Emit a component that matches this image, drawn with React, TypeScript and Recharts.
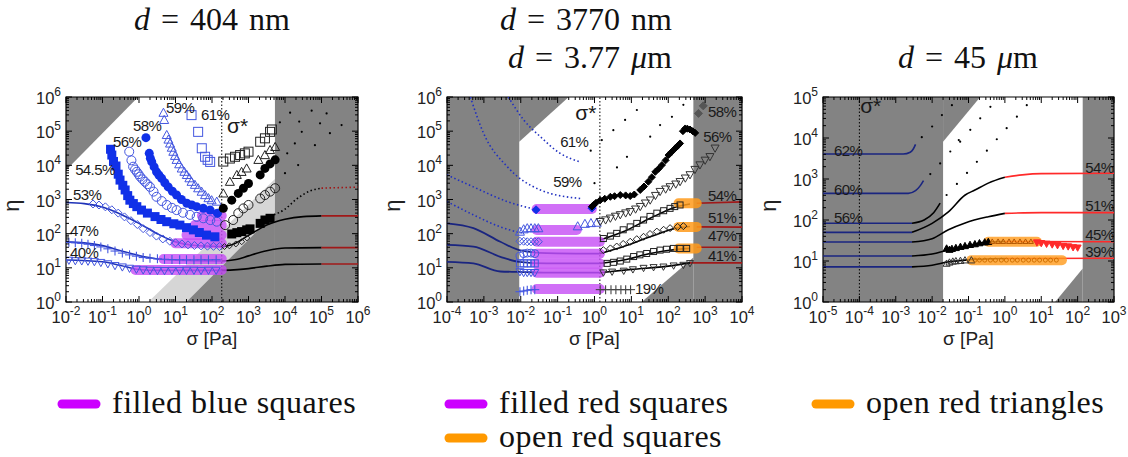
import React from "react";
import {
  Area,
  ComposedChart,
  Label,
  Line,
  ReferenceArea,
  ReferenceLine,
  Scatter,
  XAxis,
  YAxis,
} from "recharts";

type Pt = [number, number];
type Sh = [number, number, number];

const SANS = '"Liberation Sans", Arial, Helvetica, sans-serif';
const SERIF = '"Liberation Serif", "DejaVu Serif", "Noto Serif", "Times New Roman", serif';

const DARK = "#838383";
const LIGHT = "#d6d6d6";
const BLUE = "#1030e8";
const OBLUE = "#4457e0";
const FIT1 = "#1f33b8";
const NAVY = "#1a2580";
const RED = "#a01818";
const RED3 = "#ff2a2a";
const MAGENTA = "#c64cf5";
const ORANGE = "#ff9a1a";

// ---------------- d = 404 nm ----------------
const p1ShadeUL: Sh[] = [[0.01, 7200, 1e6], [0.95, 1e6, 1e6]];
const p1ShadeLight: Sh[] = [[1.8, 1, 1], [5300, 1, 4000]];
const p1ShadeLow: Sh[] = [[20, 1, 1], [5300, 1, 400]];
const p1ShadeRight: Sh[] = [[5300, 1, 1e6], [1e6, 1, 1e6]];
const p1Star = 185;

const p1Fit53: Pt[] = [[0.01, 813], [0.0316, 759], [0.1, 603], [0.316, 372], [1, 200], [3.16, 100], [10, 57.5], [31.6, 45.7], [185, 41.7]];
const p1Fit47: Pt[] = [[0.01, 57.5], [0.0316, 53.7], [0.1, 44.7], [0.316, 31.6], [1, 22.9], [3.16, 18.2], [10, 16.6], [185, 15.8]];
const p1Fit40: Pt[] = [[0.01, 17], [0.1, 15.1], [0.316, 11.7], [1, 8.9], [3.16, 8.4], [185, 8.4]];
const p1Blk53: Pt[] = [[185, 41.7], [400, 50], [1000, 89], [3160, 178], [10000, 263], [31600, 316], [100000, 331]];
const p1Blk47: Pt[] = [[185, 15.8], [500, 17.8], [1000, 22.4], [3160, 31.6], [10000, 38], [100000, 39]];
const p1Blk40: Pt[] = [[185, 8.4], [1000, 9.5], [3160, 11.2], [10000, 12.6], [100000, 13]];
const p1Red53: Pt[] = [[1e5, 331], [1e6, 331]];
const p1Red47: Pt[] = [[1e5, 39], [1e6, 39]];
const p1Red40: Pt[] = [[1e5, 13], [1e6, 13]];
const p1Dotted: Pt[] = [[5000, 355], [10000, 520], [20000, 1000], [50000, 1800], [100000, 2150]];
const p1DottedRed: Pt[] = [[1e5, 2150], [1e6, 2300]];

const p1M40: Pt[] = [[0.012, 16.5], [0.018, 16], [0.027, 15.8], [0.04, 15.5], [0.06, 15], [0.09, 14.2], [0.14, 13], [0.22, 11.5], [0.35, 10.5], [0.55, 9.6], [0.85, 9], [1.3, 8.6], [2, 8.4], [3.2, 8.3], [5, 8.2], [8, 8.3], [13, 8.3], [20, 8.4], [32, 8.4], [50, 8.3], [80, 8.4], [130, 8.4]];
const p1M47: Pt[] = [[0.012, 56], [0.018, 54], [0.027, 52], [0.04, 49], [0.06, 45], [0.09, 41], [0.14, 36], [0.22, 31], [0.35, 27], [0.55, 24], [0.85, 22], [1.3, 20], [2, 19], [3.2, 18.3], [5, 17.8], [8, 17.5], [13, 17.3], [20, 17.2], [32, 17.2], [50, 17.3], [80, 17.2], [130, 17.3]];
const p1M53: Pt[] = [[0.055, 740], [0.08, 690], [0.12, 610], [0.18, 500], [0.27, 400], [0.4, 310], [0.6, 240], [0.9, 185], [1.3, 140], [2, 108], [3, 85], [4.5, 70], [7, 60], [10, 54], [15, 50], [22, 47], [33, 45], [50, 44], [75, 43], [110, 42.5], [160, 42]];
const p1M545: Pt[] = [[0.166, 29500], [0.18, 20000], [0.2, 13000], [0.234, 9550], [0.27, 5500], [0.302, 3700], [0.36, 2600], [0.417, 1900], [0.49, 1300], [0.562, 955], [0.7, 760], [0.871, 617], [1.17, 490], [1.7, 400], [2.75, 316], [4, 260], [5.75, 224], [9, 195], [13.2, 178], [20, 150], [30.9, 129], [45, 108], [70.8, 91], [120, 81]];
const p1M56: Pt[] = [[0.54, 25100], [0.62, 14000], [0.69, 9120], [0.78, 7500], [0.87, 6460], [0.97, 5500], [1.07, 4680], [1.25, 3900], [1.45, 3310], [1.7, 2800], [2, 2340], [2.5, 1700], [3.02, 1200], [4.2, 900], [5.75, 692], [8, 570], [10.7, 490], [16, 410], [25.1, 355], [38, 310], [57.5, 282], [90, 250], [135, 224]];
const p1M58: Pt[] = [[1.55, 64600], [1.91, 22400], [2.05, 16000], [2.24, 12600], [2.6, 9000], [3.02, 6460], [3.5, 5200], [4.17, 4170], [5.1, 3100], [6.31, 2340], [8.2, 1750], [10.7, 1350], [14.5, 1000], [20.4, 776], [28, 690], [38, 617], [58, 550], [89, 490], [141, 398]];
const p1M59: Pt[] = [[4.68, 347000], [4.9, 214000], [5.75, 77600], [6.4, 57000], [7.08, 43700], [7.9, 33000], [8.71, 25100], [9.7, 19000], [10.7, 14500], [12.6, 10800], [14.8, 8130], [17.5, 6500], [20.4, 5250], [24, 4200], [27.5, 3310], [34, 2700], [41.7, 2140], [52, 1700], [64.6, 1350], [80, 1100], [97.7, 955], [135, 870]];
const p1M61: Pt[] = [[27.5, 295000], [41.7, 95500], [52.5, 31600], [64.6, 17800], [76, 14500], [89, 12600]];
const p1B61: Pt[] = [[204, 12900], [309, 15800], [427, 17800], [589, 20000], [794, 22400], [1000, 25100], [2090, 49000], [2820, 61700], [3890, 95500], [4370, 112000]];
const p1B59: Pt[] = [[204, 1510], [309, 3310], [479, 5250], [646, 6460], [891, 8130], [1860, 14500], [2820, 20000], [3890, 28200], [5370, 34700]];
const p1B58: Pt[] = [[204, 550], [347, 955], [525, 1510], [724, 2140], [1000, 2950], [2090, 5250], [2820, 8130], [3890, 11000], [5370, 14500]];
const p1B56: Pt[] = [[229, 178], [380, 251], [525, 398], [724, 550], [1000, 692], [2090, 1070], [2820, 1350], [3890, 1700], [5370, 2140]];
const p1B545: Pt[] = [[347, 98], [479, 107], [646, 115], [891, 129], [1100, 138], [2090, 200], [2820, 251], [3890, 282]];
const p1B53: Pt[] = [[220, 42], [300, 44], [450, 50], [650, 58], [900, 75]];
const p1Dots: Pt[] = [[7240, 182000], [13800, 347000], [53700, 398000], [138000, 331000], [24500, 191000], [91200, 170000], [355000, 151000], [28800, 95500], [170000, 87100], [18600, 43700], [66100, 38900], [11500, 22400], [22900, 10200], [10000, 5890]];
// magenta "filled blue squares" bands: [from, to, eta]
const p1Bands: Sh[] = [[0.8, 185, 8.7], [4.7, 185, 18], [10, 185, 52], [20, 185, 91], [34, 185, 178], [53, 185, 335]];
const p1Labels: [number, number, string][] = [[5.5, 339000, "59%"], [50, 214000, "61%"], [0.69, 100000, "58%"], [0.195, 34700, "56%"], [0.0178, 5250, "54.5%"], [0.0155, 977, "53%"], [0.0129, 85, "47%"], [0.0129, 19.5, "40%"]];

// ---------------- d = 3770 nm ----------------
const p2ShadeLeft: Sh[] = [[1e-4, 1, 1e6], [0.0091, 1, 1e6]];
const p2ShadeUL: Sh[] = [[0.0091, 49000, 1e6], [0.2, 1e6, 1e6]];
const p2ShadeLR: Sh[] = [[19, 1, 1], [480, 1, 20]];
const p2ShadeRight: Sh[] = [[480, 1, 1e6], [1e4, 1, 1e6]];
const p2Star = 1.4;

const p2Dot61: Pt[] = [[0.0046, 1e6], [0.012, 214000], [0.034, 69000], [0.117, 22400], [0.41, 12600]];
const p2Dot59: Pt[] = [[0.00043, 1e6], [0.00098, 87100], [0.0043, 9120], [0.034, 1900], [0.41, 1070]];
const p2DotC: Pt[] = [[1e-4, 5250], [0.00052, 2340], [0.0043, 871], [0.0275, 500]];
const p2DotD: Pt[] = [[1e-4, 871], [0.00052, 355], [0.0028, 158], [0.0091, 110], [0.012, 105]];
const p2FitE: Pt[] = [[1e-4, 200], [0.00052, 145], [0.0028, 58], [0.0091, 33], [0.05, 27], [1.4, 26]];
const p2FitF: Pt[] = [[1e-4, 47], [0.00052, 42], [0.0028, 21], [0.0091, 15], [0.05, 13.5], [1.4, 13.5]];
const p2FitG: Pt[] = [[1e-4, 15], [0.00052, 13.5], [0.0028, 7.8], [0.0091, 7.6], [0.05, 7.2], [1.4, 7.2]];
const p2Blk54: Pt[] = [[1.4, 65], [6.2, 115], [32.4, 282], [170, 617], [389, 741]];
const p2Blk51: Pt[] = [[1.4, 26], [6.2, 42], [32.4, 81], [170, 145], [389, 162]];
const p2Blk47: Pt[] = [[1.4, 13.5], [6.2, 17], [32.4, 26.3], [170, 34.7], [389, 37]];
const p2Blk41: Pt[] = [[1.4, 7.2], [10, 9], [100, 11.2], [389, 14]];
const p2Red54: Pt[] = [[590, 776], [1e4, 850]];
const p2Red51: Pt[] = [[590, 158], [1e4, 155]];
const p2Red47: Pt[] = [[590, 40], [1e4, 40]];
const p2Red41: Pt[] = [[389, 14], [1e4, 14]];

const p2TriB: Pt[] = [[0.0095, 115], [0.012, 135], [0.015, 145], [0.019, 145], [0.024, 145], [0.03, 145], [0.35, 165], [0.55, 195], [0.8, 205], [1.15, 210]];
const p2DiaB: Pt[] = [[0.0095, 60], [0.012, 60], [0.015, 58], [0.019, 58], [0.024, 58], [0.03, 58]];
const p2CiB: Pt[] = [[0.0095, 22], [0.012, 26], [0.015, 27], [0.019, 27], [0.024, 26]];
const p2SqB: Pt[] = [[0.0095, 13.5], [0.012, 13.5], [0.015, 13.5], [0.019, 13.5], [0.024, 13.5]];
const p2TdB: Pt[] = [[0.0095, 7.6], [0.012, 7.2], [0.015, 7.2], [0.019, 7.2], [0.024, 7.2]];
const p2PlB: Pt[] = [[0.0095, 2], [0.012, 2.1], [0.015, 2.2], [0.019, 2.3], [0.024, 2.3]];
const p2FdB: Pt[] = [[0.026, 500], [0.85, 560]];
const p2Dia58: Pt[] = [[0.85, 620], [0.94, 692], [1.1, 800], [1.43, 955], [1.9, 1050], [2.69, 1200], [3.5, 1250], [5, 1350], [7, 1320], [9.3, 1260], [12, 1400], [17.4, 1900], [22, 2400], [28.8, 3310], [36, 4500], [44.7, 6460], [55, 8000], [67.6, 10200], [85, 14000], [102, 20000], [125, 25000], [155, 31600], [180, 37000], [209, 43700], [250, 100000], [288, 120000], [330, 118000], [389, 112000], [460, 100000], [537, 89100]];
const p2Gray58: Pt[] = [[891, 550000], [661, 331000]];
const p2Tri56: Pt[] = [[1.43, 224], [2, 250], [2.69, 282], [3.7, 320], [5, 355], [7, 400], [9.3, 437], [13, 520], [17.4, 617], [24, 780], [32.4, 955], [45, 1300], [60, 1700], [85, 2000], [112, 2340], [160, 2800], [209, 3310], [290, 4200], [389, 5250], [530, 7500], [724, 10200], [1000, 14000], [1350, 17800], [1860, 31600]];
const p2Sq54: Pt[] = [[1.74, 72], [2.7, 85], [4, 102], [6, 130], [9.3, 158], [14, 200], [21.4, 251], [32, 320], [49, 398], [75, 470], [112, 550], [150, 620], [209, 692]];
const p2Dia51: Pt[] = [[1.74, 33], [2.7, 37], [4, 42], [6, 50], [9.3, 58], [14, 69], [21.4, 81], [32, 98], [49, 115], [75, 130], [112, 145], [180, 158], [257, 166]];
const p2Sq47: Pt[] = [[2.2, 13.5], [3.3, 14.5], [5, 15.8], [7.5, 18], [11.5, 21.4], [17, 24], [26, 26.3], [40, 30], [60, 33], [90, 35], [138, 37], [210, 37], [316, 37]];
const p2Td41: Pt[] = [[1.74, 7.2], [3, 7.6], [6.2, 8.1], [11, 8.9], [21.4, 9.8], [40, 10.3], [74, 10.7], [140, 11.5], [257, 12], [389, 13.5]];
const p2Pl19: Pt[] = [[1.43, 2.3], [2, 2.3], [2.8, 2.3], [3.8, 2.3], [5.2, 2.3], [7, 2.3], [9.5, 2.3]];
const p2Dots: Pt[] = [[0.79, 26900], [1.0, 3000], [4.07, 8710], [6.76, 214000], [14.1, 417000], [32.4, 69200], [126, 263000], [138, 28200], [257, 589000], [1.58, 55000], [3.24, 107000], [7.6, 17800], [60, 151000]];
const p2Bands: Sh[] = [[0.027, 0.85, 525], [0.027, 0.33, 128], [0.027, 1.4, 58], [0.027, 1.4, 26], [0.027, 1.4, 13.5], [0.027, 1.4, 7.2], [0.027, 1.4, 2.4]];
const p2Orange: Sh[] = [[190, 590, 776], [190, 590, 158], [190, 590, 37]];
const p2Labels: [number, number, string][] = [[0.117, 34700, "61%"], [0.076, 2340, "59%"], [1200, 257000, "58%"], [891, 47900, "56%"], [1200, 912, "54%"], [1200, 204, "51%"], [1200, 61.7, "47%"], [1200, 15.8, "41%"], [12.6, 1.7, "19%"]];

// ---------------- d = 45 um ----------------
const p3ShadeLeft: Sh[] = [[1e-5, 1, 1e5], [0.02, 1, 1e5]];
const p3ShadeUL: Sh[] = [[0.02, 8130, 1e5], [0.21, 1e5, 1e5]];
const p3ShadeLR: Sh[] = [[24, 1, 1], [138, 1, 6.6]];
const p3ShadeRight: Sh[] = [[138, 1, 1e5], [1000, 1, 1e5]];
const p3Star = 1e-4;

const p3Blue62: Pt[] = [[1e-5, 4070], [0.0016, 4070], [0.0025, 4500], [0.003, 5300], [0.0035, 7000]];
const p3Blue60: Pt[] = [[1e-5, 447], [0.0022, 447], [0.0035, 520], [0.0048, 700], [0.0058, 912]];
const p3Blue56: Pt[] = [[1e-5, 83], [0.0028, 83]];
const p3Blue54: Pt[] = [[1e-5, 50], [0.0028, 50]];
const p3Blue51: Pt[] = [[1e-5, 29], [0.0028, 29]];
const p3Blue45: Pt[] = [[1e-5, 13.2], [0.0028, 13.2]];
const p3Blue39: Pt[] = [[1e-5, 7.2], [0.0028, 7.2]];
const p3Blk56: Pt[] = [[0.0028, 83], [0.006, 100], [0.011, 150], [0.0166, 257]];
const p3Blk54: Pt[] = [[0.0028, 50], [0.01, 83], [0.028, 158], [0.081, 407], [0.15, 537], [0.35, 794], [1, 1100]];
const p3Blk51: Pt[] = [[0.0028, 29], [0.01, 35], [0.028, 58], [0.081, 85], [0.35, 120], [1, 145]];
const p3Blk45: Pt[] = [[0.0028, 13.2], [0.01, 14.8], [0.028, 18.6], [0.081, 22.4], [0.35, 29.5], [1, 30]];
const p3Blk39: Pt[] = [[0.0028, 7.2], [0.01, 7.9], [0.028, 9.5], [0.081, 10.5], [1, 11.5]];
const p3Red54: Pt[] = [[1, 1100], [3, 1260], [10, 1350], [1000, 1380]];
const p3Red51: Pt[] = [[1, 145], [10, 151], [1000, 151]];
const p3Red45: Pt[] = [[1, 30], [1000, 29.5]];
const p3Red39: Pt[] = [[1, 11.5], [1000, 11.7]];
const p3FTri: Pt[] = [[0.025, 20.4], [0.03, 19], [0.035, 20], [0.045, 21], [0.06, 22.4], [0.08, 23.4], [0.11, 25], [0.15, 26], [0.2, 27.5], [0.28, 28.8], [0.35, 29.5]];
const p3OTri: Pt[] = [[0.025, 8.7], [0.03, 9.3], [0.037, 9.8], [0.045, 10], [0.06, 10.2], [0.08, 10.5], [0.12, 10.5]];
const p3RedTd: Pt[] = [[7.6, 28], [10, 27], [14, 26], [20, 25], [28, 24], [40, 23], [55, 22.4], [75, 21.4], [100, 21]];
const p3OrTri: Pt[] = [[0.45, 30], [0.65, 30], [0.9, 30], [1.3, 30], [1.8, 30], [2.6, 30], [3.7, 30], [5.2, 30]];
const p3OrCi: Pt[] = [[0.15, 10.5], [0.2, 10.5], [0.28, 10.5], [0.4, 10.5], [0.55, 10.5], [0.8, 10.5], [1.1, 10.5], [1.6, 10.5], [2.2, 10.5], [3.2, 10.5], [4.5, 10.5], [6.4, 10.5], [9, 10.5], [13, 10.5], [18, 10.5], [26, 10.5]];
const p3Dots: Pt[] = [[0.035, 63100], [0.0186, 36300], [0.01, 19100], [0.0052, 10500], [0.0166, 2400], [0.0089, 1320], [0.025, 407], [0.0316, 4680], [0.054, 8910], [0.048, 759], [0.4, 57500], [0.21, 30200], [0.112, 15800], [0.059, 8130], [0.17, 2630], [0.091, 1410], [4, 63100], [2.14, 33100], [1.12, 17400], [0.6, 9330], [0.32, 4900]];
const p3Orange: Sh[] = [[0.35, 7.6, 29.5], [0.12, 37, 10.5]];
const p3Labels: [number, number, string][] = [[2e-5, 3630, "62%"], [2e-5, 407, "60%"], [2e-5, 85, "56%"], [162, 1410, "54%"], [162, 166, "51%"], [162, 32.4, "45%"], [162, 12.6, "39%"]];

const titles: [number, number, string, string][] = [
  [212, 30, "404", "nm"],
  [586, 30, "3770", "nm"],
  [590, 68, "3.77", "μm"],
  [968, 68, "45", "μm"],
];
const legendItems: [number, number, string, string][] = [
  [58, 404, "#cc00ff", "filled blue squares"],
  [445, 404, "#cc00ff", "filled red squares"],
  [445, 438, "#ff9900", "open red squares"],
  [812, 404, "#ff9900", "open red triangles"],
];

const toPts = (a: Pt[]) => a.map(([s, e]) => ({ s, e }));

const logTicks = (a: number, b: number) => {
  const out: number[] = [];
  for (let e = a; e < b; e++) for (let m = 1; m < 10; m++) out.push(m * 10 ** e);
  out.push(10 ** b);
  return out;
};
const isMajor = (v: number) => {
  const lg = Math.log10(v);
  return Math.abs(lg - Math.round(lg)) < 1e-9;
};

const Mark = ({ cx, cy, kind, color, size }: any) => {
  if (cx == null || cy == null) return null;
  const h = size / 2;
  const sw = 1;
  switch (kind) {
    case "sq":
      return <rect x={cx - h} y={cy - h} width={size} height={size} fill={color} />;
    case "osq":
      return <rect x={cx - h} y={cy - h} width={size} height={size} fill="none" stroke={color} strokeWidth={sw} />;
    case "ci":
      return <circle cx={cx} cy={cy} r={h} fill={color} />;
    case "oci":
      return <circle cx={cx} cy={cy} r={h} fill="none" stroke={color} strokeWidth={sw} />;
    case "otri":
    case "ftri":
      return (
        <polygon
          points={`${cx},${cy - h} ${cx + h},${cy + h * 0.8} ${cx - h},${cy + h * 0.8}`}
          fill={kind === "ftri" ? color : "none"}
          stroke={color}
          strokeWidth={sw}
        />
      );
    case "otd":
    case "ftd":
      return (
        <polygon
          points={`${cx},${cy + h} ${cx + h},${cy - h * 0.8} ${cx - h},${cy - h * 0.8}`}
          fill={kind === "ftd" ? color : "none"}
          stroke={color}
          strokeWidth={sw}
        />
      );
    case "odia":
    case "fdia":
      return (
        <polygon
          points={`${cx},${cy - h} ${cx + h},${cy} ${cx},${cy + h} ${cx - h},${cy}`}
          fill={kind === "fdia" ? color : "none"}
          stroke={color}
          strokeWidth={sw}
        />
      );
    case "plus":
      return (
        <g stroke={color} strokeWidth={1.1}>
          <line x1={cx - h} y1={cy} x2={cx + h} y2={cy} />
          <line x1={cx} y1={cy - h} x2={cx} y2={cy + h} />
        </g>
      );
    default:
      return <circle cx={cx} cy={cy} r={1.1} fill={color} />;
  }
};

type MarkSet = { data: Pt[]; kind: string; color: string; size: number };
type Curve = { data: Pt[]; color: string; width?: number; dash?: string; smooth?: boolean };

interface PanelProps {
  left: number;
  top: number;
  w: number;
  h: number;
  xe: [number, number];
  ye: [number, number];
  star: number;
  starLabel: Pt;
  shades: { data: Sh[]; fill: string }[];
  curves: Curve[];
  marks: MarkSet[];
  bands: { data: Sh[]; color: string; opacity: number }[];
  dots: Pt[];
  labels: [number, number, string][];
}

const AX_W = 66;
const TOP_M = 18;

function Panel(p: PanelProps) {
  const { left, top, w, h } = p;
  const xDom = [10 ** p.xe[0], 10 ** p.xe[1]];
  const yDom = [10 ** p.ye[0], 10 ** p.ye[1]];

  const xTick = ({ x, y, payload }: any) => {
    const v = payload.value;
    const major = isMajor(v);
    const len = major ? 6 : 3;
    return (
      <g>
        <line x1={x} y1={y} x2={x} y2={y - len} stroke="#000" />
        <line x1={x} y1={y - h} x2={x} y2={y - h + len} stroke="#000" />
        {major && (
          <text x={x} y={y + 21} textAnchor="middle" fontSize={16.5} style={{ fontFamily: SANS }} fill="#222">
            10
            <tspan dy={-8} fontSize={12}>{Math.round(Math.log10(v))}</tspan>
          </text>
        )}
      </g>
    );
  };
  const yTick = ({ x, y, payload }: any) => {
    const v = payload.value;
    const major = isMajor(v);
    const len = major ? 6 : 3;
    return (
      <g>
        <line x1={x} y1={y} x2={x + len} y2={y} stroke="#000" />
        <line x1={x + w} y1={y} x2={x + w - len} y2={y} stroke="#000" />
        {major && (
          <text x={x - 5} y={y + 7} textAnchor="end" fontSize={16.5} style={{ fontFamily: SANS }} fill="#222">
            10
            <tspan dy={-8} fontSize={12}>{Math.round(Math.log10(v))}</tspan>
          </text>
        )}
      </g>
    );
  };

  const labelData = [
    ...p.labels.map(([s, e, t]) => ({ s, e, t, big: false })),
    { s: p.starLabel[0], e: p.starLabel[1], t: "σ*", big: true },
  ];
  const etaY = TOP_M + h / 2 + 6;

  return (
    <div style={{ position: "absolute", left: left - AX_W, top: top - TOP_M }}>
      <ComposedChart width={w + AX_W + 16} height={h + TOP_M + 55} margin={{ top: TOP_M, right: 16, left: 0, bottom: 0 }}>
        <XAxis
          dataKey="s"
          type="number"
          scale="log"
          domain={xDom}
          allowDataOverflow
          ticks={logTicks(p.xe[0], p.xe[1])}
          interval={0}
          tick={xTick}
          tickLine={false}
          axisLine={false}
          tickSize={0}
          tickMargin={0}
          height={55}
        >
          <Label
            content={() => (
              <text x={AX_W + w / 2} y={TOP_M + h + 43} textAnchor="middle" fontSize={19} style={{ fontFamily: SANS }} fill="#222">
                σ [Pa]
              </text>
            )}
          />
        </XAxis>
        <YAxis
          dataKey="e"
          type="number"
          scale="log"
          domain={yDom}
          allowDataOverflow
          ticks={logTicks(p.ye[0], p.ye[1])}
          interval={0}
          tick={yTick}
          tickLine={false}
          axisLine={false}
          tickSize={0}
          tickMargin={0}
          width={AX_W}
        >
          <Label
            content={() => (
              <text
                x={19}
                y={etaY}
                transform={`rotate(-90 19 ${etaY})`}
                textAnchor="middle"
                fontSize={22}
                style={{ fontFamily: SANS }}
                fill="#222"
              >
                η
              </text>
            )}
          />
        </YAxis>

        {p.shades.map((sh, i) => (
          <Area
            key={"sh" + i}
            data={sh.data.map(([s, lo, hi]) => ({ s, r: [lo, hi] }))}
            dataKey="r"
            type="linear"
            stroke="none"
            fill={sh.fill}
            fillOpacity={1}
            dot={false}
            activeDot={false}
            isAnimationActive={false}
          />
        ))}

        <ReferenceLine x={p.star} stroke="#000" strokeWidth={1} strokeDasharray="1.5 2" />

        <Scatter
          data={toPts(p.dots)}
          shape={(q: any) => <Mark {...q} kind="dot" color="#000" size={2} />}
          isAnimationActive={false}
        />

        {p.marks.map((m, i) => (
          <Scatter
            key={"m" + i}
            data={toPts(m.data)}
            shape={(q: any) => <Mark {...q} kind={m.kind} color={m.color} size={m.size} />}
            isAnimationActive={false}
          />
        ))}

        {p.curves.map((c, i) => (
          <Line
            key={"c" + i}
            data={toPts(c.data)}
            dataKey="e"
            type={c.smooth === false ? "linear" : "monotone"}
            stroke={c.color}
            strokeWidth={c.width ?? 1.6}
            strokeDasharray={c.dash}
            dot={false}
            activeDot={false}
            isAnimationActive={false}
          />
        ))}

        {p.bands.flatMap((b, j) =>
          b.data.map(([a, z, e], i) => (
            <Line
              key={"b" + j + "-" + i}
              data={[{ s: a, e }, { s: z, e }]}
              dataKey="e"
              type="linear"
              stroke={b.color}
              strokeOpacity={b.opacity}
              strokeWidth={10}
              strokeLinecap="round"
              dot={false}
              activeDot={false}
              isAnimationActive={false}
            />
          ))
        )}

        <Scatter
          data={labelData}
          shape={(q: any) => {
            const d = q.payload ?? q;
            return (
              <text
                x={q.cx}
                y={q.cy}
                fontSize={d.big ? 21 : 15}
                letterSpacing={d.big ? 0 : -0.6}
                style={{ fontFamily: SANS }}
                fill="#1a1a1a"
              >
                {d.t}
              </text>
            );
          }}
          isAnimationActive={false}
        />

        <ReferenceArea
          x1={xDom[0]}
          x2={xDom[1]}
          y1={yDom[0]}
          y2={yDom[1]}
          fill="none"
          fillOpacity={0}
          stroke="#000"
          strokeWidth={1.2}
        />
      </ComposedChart>
    </div>
  );
}

export default function App() {
  return (
    <div style={{ position: "absolute", left: 0, top: 0, width: 1128, height: 457, background: "#fff", overflow: "hidden" }}>
      <Panel
        left={66}
        top={97}
        w={292}
        h={205}
        xe={[-2, 6]}
        ye={[0, 6]}
        star={p1Star}
        starLabel={[257, 89000]}
        shades={[
          { data: p1ShadeUL, fill: DARK },
          { data: p1ShadeLight, fill: LIGHT },
          { data: p1ShadeLow, fill: DARK },
          { data: p1ShadeRight, fill: DARK },
        ]}
        dots={p1Dots}
        marks={[
          { data: p1M40, kind: "otd", color: OBLUE, size: 8 },
          { data: p1M47, kind: "plus", color: OBLUE, size: 9 },
          { data: p1M53, kind: "odia", color: OBLUE, size: 8 },
          { data: p1M545, kind: "sq", color: BLUE, size: 9 },
          { data: p1M56, kind: "oci", color: OBLUE, size: 9 },
          { data: p1M58, kind: "ci", color: BLUE, size: 9 },
          { data: p1M59, kind: "otri", color: OBLUE, size: 9 },
          { data: p1M61, kind: "osq", color: OBLUE, size: 9 },
          { data: p1B61, kind: "osq", color: "#222", size: 9 },
          { data: p1B59, kind: "otri", color: "#222", size: 9 },
          { data: p1B58, kind: "ci", color: "#000", size: 9 },
          { data: p1B56, kind: "oci", color: "#222", size: 9 },
          { data: p1B545, kind: "sq", color: "#000", size: 9 },
          { data: p1B53, kind: "odia", color: "#222", size: 6 },
        ]}
        curves={[
          { data: p1Fit53, color: FIT1 },
          { data: p1Fit47, color: FIT1 },
          { data: p1Fit40, color: FIT1 },
          { data: p1Blk53, color: "#000" },
          { data: p1Blk47, color: "#000" },
          { data: p1Blk40, color: "#000" },
          { data: p1Red53, color: RED, smooth: false },
          { data: p1Red47, color: RED, smooth: false },
          { data: p1Red40, color: RED, smooth: false },
          { data: p1Dotted, color: "#000", dash: "1.5 2.5" },
          { data: p1DottedRed, color: RED, dash: "1.5 2.5" },
        ]}
        bands={[{ data: p1Bands, color: MAGENTA, opacity: 0.8 }]}
        labels={p1Labels}
      />
      <Panel
        left={447}
        top={97}
        w={295}
        h={205}
        xe={[-4, 4]}
        ye={[0, 6]}
        star={p2Star}
        starLabel={[0.3, 214000]}
        shades={[
          { data: p2ShadeLeft, fill: DARK },
          { data: p2ShadeUL, fill: DARK },
          { data: p2ShadeLR, fill: DARK },
          { data: p2ShadeRight, fill: DARK },
        ]}
        dots={p2Dots}
        marks={[
          { data: p2TriB, kind: "otri", color: OBLUE, size: 9 },
          { data: p2DiaB, kind: "odia", color: OBLUE, size: 8 },
          { data: p2CiB, kind: "oci", color: OBLUE, size: 8 },
          { data: p2SqB, kind: "osq", color: OBLUE, size: 7 },
          { data: p2TdB, kind: "otd", color: OBLUE, size: 8 },
          { data: p2PlB, kind: "plus", color: OBLUE, size: 9 },
          { data: p2FdB, kind: "fdia", color: BLUE, size: 8 },
          { data: p2Dia58, kind: "fdia", color: "#000", size: 7 },
          { data: p2Gray58, kind: "fdia", color: "#555", size: 8 },
          { data: p2Tri56, kind: "otd", color: "#333", size: 8 },
          { data: p2Sq54, kind: "osq", color: "#222", size: 6 },
          { data: p2Dia51, kind: "odia", color: "#222", size: 7 },
          { data: p2Sq47, kind: "osq", color: "#222", size: 6 },
          { data: p2Td41, kind: "otd", color: "#333", size: 7 },
          { data: p2Pl19, kind: "plus", color: "#444", size: 9 },
        ]}
        curves={[
          { data: p2Dot61, color: "#2030c0", dash: "1.5 2.5" },
          { data: p2Dot59, color: "#2030c0", dash: "1.5 2.5" },
          { data: p2DotC, color: "#2030c0", dash: "1.5 2.5" },
          { data: p2DotD, color: "#2030c0", dash: "1.5 2.5" },
          { data: p2FitE, color: NAVY, width: 1.8 },
          { data: p2FitF, color: NAVY, width: 1.8 },
          { data: p2FitG, color: NAVY, width: 1.8 },
          { data: p2Blk54, color: "#000" },
          { data: p2Blk51, color: "#000" },
          { data: p2Blk47, color: "#000" },
          { data: p2Blk41, color: "#000" },
          { data: p2Red54, color: RED, smooth: false },
          { data: p2Red51, color: RED, smooth: false },
          { data: p2Red47, color: RED, smooth: false },
          { data: p2Red41, color: RED, smooth: false },
        ]}
        bands={[
          { data: p2Bands, color: MAGENTA, opacity: 0.8 },
          { data: p2Orange, color: ORANGE, opacity: 0.85 },
        ]}
        labels={p2Labels}
      />
      <Panel
        left={823}
        top={97}
        w={291}
        h={205}
        xe={[-5, 3]}
        ye={[0, 5]}
        star={p3Star}
        starLabel={[1.05e-4, 40700]}
        shades={[
          { data: p3ShadeLeft, fill: DARK },
          { data: p3ShadeUL, fill: DARK },
          { data: p3ShadeLR, fill: DARK },
          { data: p3ShadeRight, fill: DARK },
        ]}
        dots={p3Dots}
        marks={[
          { data: p3FTri, kind: "ftri", color: "#000", size: 7 },
          { data: p3OTri, kind: "otri", color: "#333", size: 7 },
          { data: p3RedTd, kind: "ftd", color: RED3, size: 7 },
          { data: p3OrTri, kind: "otri", color: "#b25500", size: 5 },
          { data: p3OrCi, kind: "oci", color: "#d07000", size: 4 },
        ]}
        curves={[
          { data: p3Blue62, color: NAVY },
          { data: p3Blue60, color: NAVY },
          { data: p3Blue56, color: NAVY, smooth: false },
          { data: p3Blue54, color: NAVY, smooth: false },
          { data: p3Blue51, color: NAVY, smooth: false },
          { data: p3Blue45, color: NAVY, smooth: false },
          { data: p3Blue39, color: NAVY, smooth: false },
          { data: p3Blk56, color: "#000" },
          { data: p3Blk54, color: "#000" },
          { data: p3Blk51, color: "#000" },
          { data: p3Blk45, color: "#000" },
          { data: p3Blk39, color: "#000" },
          { data: p3Red54, color: RED3 },
          { data: p3Red51, color: RED3 },
          { data: p3Red45, color: RED3, smooth: false },
          { data: p3Red39, color: RED3, smooth: false },
        ]}
        bands={[{ data: p3Orange, color: ORANGE, opacity: 0.8 }]}
        labels={p3Labels}
      />

      <svg width={1128} height={457} style={{ position: "absolute", left: 0, top: 0, pointerEvents: "none" }}>
        {titles.map(([x, y, num, unit], i) => (
          <text key={i} x={x} y={y} textAnchor="middle" fontSize={32} style={{ fontFamily: SERIF }} fill="#111" wordSpacing={3}>
            <tspan fontStyle="italic">d</tspan> = {num} <tspan fontStyle={unit === "μm" ? "italic" : "normal"}>{unit.slice(0, 1)}</tspan>
            {unit.slice(1)}
          </text>
        ))}
        {legendItems.map(([x, y, color, label], i) => (
          <g key={i}>
            <line x1={x + 4} y1={y} x2={x + 38} y2={y} stroke={color} strokeWidth={9} strokeLinecap="round" />
            <text x={x + 54} y={y + 9} fontSize={32} style={{ fontFamily: SERIF }} fill="#111" letterSpacing={0.5}>
              {label}
            </text>
          </g>
        ))}
      </svg>
    </div>
  );
}
